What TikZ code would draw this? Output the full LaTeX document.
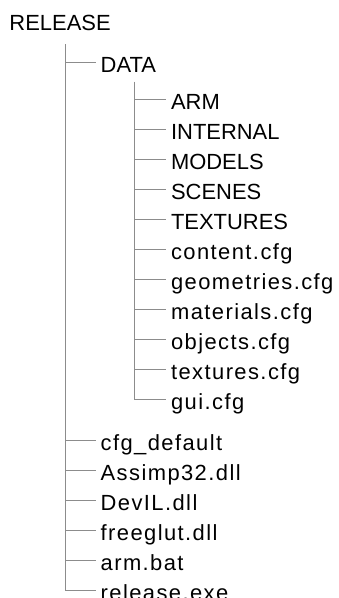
\documentclass[tikz,border=0pt]{standalone}
\usepackage{fontspec}
\setmainfont{Liberation Sans}
\newfontfamily\filefont[LetterSpace=6.5]{Liberation Sans}
\usepackage{tikz}

\begin{document}
\begin{tikzpicture}[
          dir/.style={anchor=west, inner xsep=0.12cm, inner ysep=0pt,
                      text height=14.8pt, text depth=0.6pt,
                      font=\fontsize{15.6pt}{18pt}\selectfont},
          file/.style={dir, font=\fontsize{15.6pt}{18pt}\selectfont\filefont},
          branch/.style={draw=black!45, line width=0.71pt}
        ]
          \useasboundingbox (0,0) rectangle (8.45,-14.95);
          \node[dir]  (release)    at (0.11,-0.52)   {RELEASE};
          \coordinate (rtop)       at (1.64,-1.11);
          \node[dir]  (data)       at (2.39,-1.56)   {DATA};
          \coordinate (dtop)       at (3.36,-2.04);
          \node[dir]  (arm)        at (4.15,-2.49)   {ARM};
          \node[dir]  (internal)   at (4.15,-3.24)   {INTERNAL};
          \node[dir]  (models)     at (4.15,-3.99)   {MODELS};
          \node[dir]  (scenes)     at (4.15,-4.74)   {SCENES};
          \node[dir]  (textures)   at (4.15,-5.49)   {TEXTURES};
          \node[file] (content)    at (4.15,-6.24)   {content.cfg};
          \node[file] (geometries) at (4.15,-6.99)   {geometries.cfg};
          \node[file] (materials)  at (4.15,-7.74)   {materials.cfg};
          \node[file] (objects)    at (4.15,-8.49)   {objects.cfg};
          \node[file] (texcfg)     at (4.15,-9.24)   {textures.cfg};
          \node[file] (gui)        at (4.15,-9.99)   {gui.cfg};
          \node[file] (cfgdef)     at (2.39,-11.02)  {cfg\_default};
          \node[file] (assimp)     at (2.39,-11.77)  {Assimp32.dll};
          \node[file] (devil)      at (2.39,-12.52)  {DevIL.dll};
          \node[file] (freeglut)   at (2.39,-13.27)  {freeglut.dll};
          \node[file] (armbat)     at (2.39,-14.02)  {arm.bat};
          \node[file] (exe)        at (2.39,-14.77)  {release.exe};
          % release branches
          \draw[branch] (rtop) |- (exe.west);
          \draw[branch] (rtop |- data.west) -- (data.west);
          \draw[branch] (rtop |- cfgdef.west) -- (cfgdef.west);
          \draw[branch] (rtop |- assimp.west) -- (assimp.west);
          \draw[branch] (rtop |- devil.west) -- (devil.west);
          \draw[branch] (rtop |- freeglut.west) -- (freeglut.west);
          \draw[branch] (rtop |- armbat.west) -- (armbat.west);
          % data branches
          \draw[branch] (dtop) |- (gui.west);
          \draw[branch] (dtop |- arm.west) -- (arm.west);
          \draw[branch] (dtop |- internal.west) -- (internal.west);
          \draw[branch] (dtop |- models.west) -- (models.west);
          \draw[branch] (dtop |- scenes.west) -- (scenes.west);
          \draw[branch] (dtop |- textures.west) -- (textures.west);
          \draw[branch] (dtop |- content.west) -- (content.west);
          \draw[branch] (dtop |- geometries.west) -- (geometries.west);
          \draw[branch] (dtop |- materials.west) -- (materials.west);
          \draw[branch] (dtop |- objects.west) -- (objects.west);
          \draw[branch] (dtop |- texcfg.west) -- (texcfg.west);
        \end{tikzpicture}
\end{document}
